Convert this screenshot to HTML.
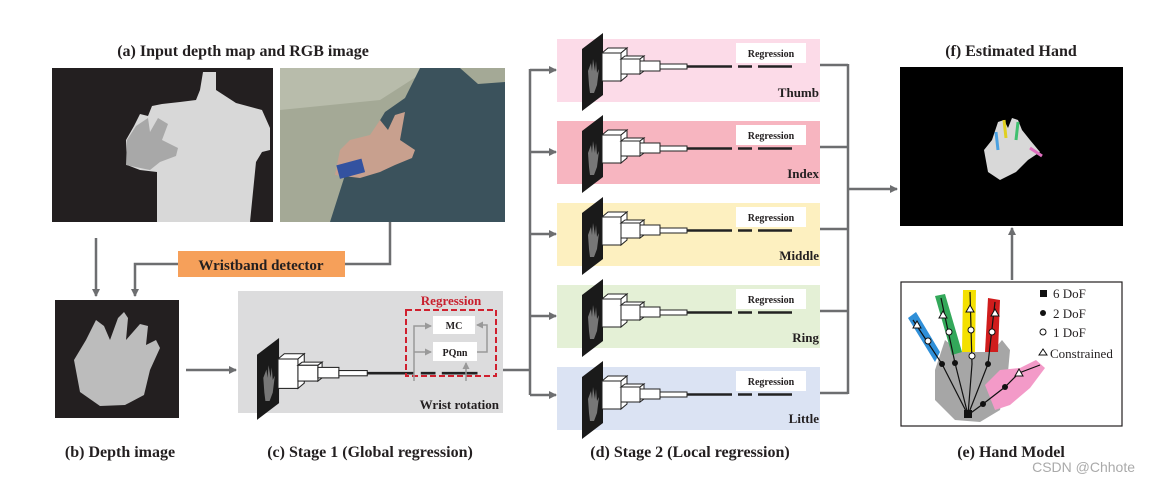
<!DOCTYPE html>
<html><head><meta charset="utf-8"><style>
html,body{margin:0;padding:0;background:#fff}
svg{display:block}
text{font-family:"Liberation Serif",serif;font-weight:bold;fill:#231f20}
</style></head><body>
<svg width="1151" height="482" viewBox="0 0 1151 482" xmlns="http://www.w3.org/2000/svg">
<defs>
<marker id="ah" markerWidth="8" markerHeight="8" refX="7" refY="4" orient="auto" markerUnits="userSpaceOnUse"><path d="M0,0 L8,4 L0,8 z" fill="#6d6e70"/></marker>
<marker id="ah2" markerWidth="7" markerHeight="7" refX="6" refY="3.5" orient="auto" markerUnits="userSpaceOnUse"><path d="M0,0 L7,3.5 L0,7 z" fill="#999"/></marker>
<g id="net">
<polygon points="0,16 21,0 21,62 0,78" fill="#1a1a1a"/>
<path d="M7,52 L6,38 L9,30 L10,38 L11,26 L13,38 L14,28 L15,40 L17,36 L15,52 L12,60 L8,60 Z" fill="#777"/>
<polygon points="20,20 26,15 45,15 39,20" fill="#fff" stroke="#222" stroke-width="1"/>
<polygon points="39,20 45,15 45,43 39,48" fill="#fff" stroke="#222" stroke-width="1"/>
<rect x="20" y="20" width="19" height="28" fill="#fff" stroke="#222" stroke-width="1"/>
<polygon points="39,26 43,23 62,23 58,26" fill="#fff" stroke="#222" stroke-width="1"/>
<polygon points="58,26 62,23 62,38 58,41" fill="#fff" stroke="#222" stroke-width="1"/>
<rect x="39" y="26" width="19" height="15" fill="#fff" stroke="#222" stroke-width="1"/>
<rect x="58" y="28" width="20" height="10" fill="#fff" stroke="#222" stroke-width="1"/>
<rect x="78" y="31" width="27" height="5" fill="#fff" stroke="#222" stroke-width="1"/>
<line x1="105" y1="33.5" x2="150" y2="33.5" stroke="#222" stroke-width="2.5"/>
<line x1="156" y1="33.5" x2="170" y2="33.5" stroke="#222" stroke-width="2.5"/>
<line x1="176" y1="33.5" x2="210" y2="33.5" stroke="#222" stroke-width="2.5"/>
</g>
</defs>

<!-- (a) -->
<text x="243" y="56" font-size="16" text-anchor="middle">(a) Input depth map and RGB image</text>
<rect x="52" y="68" width="221" height="154" fill="#231f20"/>
<polygon points="203,72 216,72 216,90 236,103 262,110 270,128 270,150 262,152 256,162 250,222 157,222 157,172 140,170 127,165 126,140 134,126 140,114 148,116 152,106 162,104 180,102 196,100 200,90" fill="#d8d8d8"/>
<path d="M126,165 L127,140 L136,126 L148,118 L150,132 L158,118 L168,124 L162,140 L178,148 L176,156 L160,162 L150,170 Z" fill="#a8a8a8"/>
<rect x="280" y="68" width="225" height="154" fill="#a4a996"/>
<polygon points="280,68 430,68 380,100 280,110" fill="#b8bcab"/>
<polygon points="420,68 460,68 478,84 505,82 505,222 330,222 345,175 368,140 385,112 405,98" fill="#3b525c"/>
<polygon points="335,175 340,150 350,140 370,135 380,120 388,130 395,115 405,112 400,140 415,150 412,158 395,165 380,172 360,178" fill="#c8a08e"/>
<rect x="338" y="162" width="26" height="14" fill="#3352a0" transform="rotate(-15 350 170)"/>

<!-- (b) -->
<rect x="55" y="300" width="124" height="118" fill="#231f20"/>
<path d="M80,392 L74,360 L86,340 L96,320 L104,326 L110,340 L118,318 L124,312 L128,318 L126,340 L140,324 L148,326 L146,345 L156,340 L160,348 L150,370 L144,395 L125,405 L100,406 Z" fill="#bcbcbc"/>
<text x="120" y="457" font-size="16" text-anchor="middle">(b) Depth image</text>

<!-- arrows left -->
<line x1="96" y1="238" x2="96" y2="296" stroke="#6d6e70" stroke-width="2.5" marker-end="url(#ah)"/>
<polyline points="390,222 390,264 345,264" fill="none" stroke="#6d6e70" stroke-width="2.5"/>
<polyline points="178,264 135,264 135,296" fill="none" stroke="#6d6e70" stroke-width="2.5" marker-end="url(#ah)"/>
<rect x="178" y="251" width="167" height="26" fill="#f6a05a"/>
<text x="261" y="270" font-size="15" text-anchor="middle">Wristband detector</text>
<line x1="186" y1="370" x2="236" y2="370" stroke="#6d6e70" stroke-width="2.5" marker-end="url(#ah)"/>

<!-- (c) -->
<rect x="238" y="291" width="265" height="122" fill="#dcdcdd"/>
<use href="#net" transform="translate(257,338) scale(1.05)"/>
<rect x="406" y="310" width="90" height="66" fill="none" stroke="#d0202e" stroke-width="2" stroke-dasharray="6,3"/>
<text x="451" y="305" font-size="13" text-anchor="middle" style="fill:#c8202e">Regression</text>
<rect x="433" y="316" width="42" height="18" fill="#fff"/>
<text x="454" y="329" font-size="10" text-anchor="middle">MC</text>
<rect x="433" y="342" width="44" height="19" fill="#fff"/>
<text x="455" y="356" font-size="10" text-anchor="middle">PQnn</text>
<polyline points="414,381 414,326 431,326" fill="none" stroke="#999" stroke-width="1.5" marker-end="url(#ah2)"/>
<line x1="414" y1="352" x2="431" y2="352" stroke="#999" stroke-width="1.5" marker-end="url(#ah2)"/>
<polyline points="477,352 487,352 487,325 477,325" fill="none" stroke="#999" stroke-width="1.5" marker-end="url(#ah2)"/>
<line x1="466" y1="381" x2="466" y2="363" stroke="#999" stroke-width="1.5" marker-end="url(#ah2)"/>
<text x="499" y="409" font-size="13" text-anchor="end">Wrist rotation</text>
<text x="370" y="457" font-size="16" text-anchor="middle">(c) Stage 1 (Global regression)</text>

<!-- connectors to stage 2 -->
<polyline points="503,370 530,370" fill="none" stroke="#6d6e70" stroke-width="2.5"/>
<line x1="530" y1="69" x2="530" y2="395" stroke="#6d6e70" stroke-width="2.5"/>
<line x1="530" y1="70" x2="556" y2="70" stroke="#6d6e70" stroke-width="2.5" marker-end="url(#ah)"/>
<line x1="530" y1="152" x2="556" y2="152" stroke="#6d6e70" stroke-width="2.5" marker-end="url(#ah)"/>
<line x1="530" y1="234" x2="556" y2="234" stroke="#6d6e70" stroke-width="2.5" marker-end="url(#ah)"/>
<line x1="530" y1="316" x2="556" y2="316" stroke="#6d6e70" stroke-width="2.5" marker-end="url(#ah)"/>
<line x1="530" y1="395" x2="556" y2="395" stroke="#6d6e70" stroke-width="2.5" marker-end="url(#ah)"/>

<!-- stage 2 boxes -->
<rect x="557" y="39" width="263" height="63" fill="#fcdbe8"/>
<rect x="557" y="121" width="263" height="63" fill="#f7b5c0"/>
<rect x="557" y="203" width="263" height="63" fill="#fdf0c0"/>
<rect x="557" y="285" width="263" height="63" fill="#e4f0d6"/>
<rect x="557" y="367" width="263" height="63" fill="#dbe3f3"/>
<use href="#net" transform="translate(582,33)"/>
<use href="#net" transform="translate(582,115)"/>
<use href="#net" transform="translate(582,197)"/>
<use href="#net" transform="translate(582,279)"/>
<use href="#net" transform="translate(582,361)"/>
<rect x="736" y="43" width="70" height="20" fill="#fff"/><text x="771" y="57" text-anchor="middle" font-size="10">Regression</text>
<rect x="736" y="125" width="70" height="20" fill="#fff"/><text x="771" y="139" text-anchor="middle" font-size="10">Regression</text>
<rect x="736" y="207" width="70" height="20" fill="#fff"/><text x="771" y="221" text-anchor="middle" font-size="10">Regression</text>
<rect x="736" y="289" width="70" height="20" fill="#fff"/><text x="771" y="303" text-anchor="middle" font-size="10">Regression</text>
<rect x="736" y="371" width="70" height="20" fill="#fff"/><text x="771" y="385" text-anchor="middle" font-size="10">Regression</text>
<text x="819" y="97" text-anchor="end" font-size="13">Thumb</text>
<text x="819" y="178" text-anchor="end" font-size="13">Index</text>
<text x="819" y="260" text-anchor="end" font-size="13">Middle</text>
<text x="819" y="342" text-anchor="end" font-size="13">Ring</text>
<text x="819" y="423" text-anchor="end" font-size="13">Little</text>
<text x="690" y="457" font-size="16" text-anchor="middle">(d) Stage 2 (Local regression)</text>

<!-- right connectors -->
<g stroke="#6d6e70" stroke-width="2.5">
<line x1="820" y1="65" x2="848" y2="65"/>
<line x1="820" y1="147" x2="848" y2="147"/>
<line x1="820" y1="229" x2="848" y2="229"/>
<line x1="820" y1="311" x2="848" y2="311"/>
<line x1="820" y1="393" x2="848" y2="393"/>
<line x1="848" y1="64" x2="848" y2="394"/>
</g>
<line x1="848" y1="189" x2="897" y2="189" stroke="#6d6e70" stroke-width="2.5" marker-end="url(#ah)"/>

<!-- (f) -->
<text x="1011" y="56" font-size="16" text-anchor="middle">(f) Estimated Hand</text>
<rect x="900" y="67" width="223" height="159" fill="#000"/>
<path d="M988,172 L984,150 L992,140 L998,122 L1004,120 L1008,128 L1012,118 L1018,120 L1022,130 L1030,140 L1040,152 L1028,160 L1016,172 L1000,180 Z" fill="#d8d8d8"/>
<line x1="1004" y1="120" x2="1006" y2="138" stroke="#e0d020" stroke-width="3"/>
<line x1="1018" y1="122" x2="1016" y2="140" stroke="#40c070" stroke-width="3"/>
<line x1="1030" y1="148" x2="1042" y2="156" stroke="#e070c0" stroke-width="3"/>
<line x1="996" y1="132" x2="998" y2="150" stroke="#4aa0e0" stroke-width="3"/>
<line x1="1012" y1="280" x2="1012" y2="228" stroke="#6d6e70" stroke-width="2.5" marker-end="url(#ah)"/>

<!-- (e) -->
<rect x="901" y="282" width="221" height="144" fill="#fff" stroke="#231f20" stroke-width="1.2"/>
<polygon points="935,370 945,340 960,352 992,352 1002,340 1010,350 1008,372 1000,410 980,422 955,420 935,400" fill="#a6a6a6"/>
<polygon points="908,318 916,312 940,352 935,362" fill="#2f8fd8"/>
<polygon points="935,296 945,294 962,352 952,355" fill="#33a85a"/>
<polygon points="963,290 976,290 975,352 962,352" fill="#f4e000"/>
<polygon points="988,298 1000,300 998,352 985,352" fill="#d01c1c"/>
<polygon points="985,385 1000,370 1020,368 1036,360 1045,368 1030,388 1010,405 995,410" fill="#f39ac8"/>
<g stroke="#111" stroke-width="1.2" fill="none">
<polyline points="913,320 942,364 968,415"/>
<polyline points="941,298 955,363 968,415"/>
<polyline points="970,292 972,364 968,415"/>
<polyline points="995,302 988,364 968,415"/>
<polyline points="1040,365 1019,373 1005,387 983,404 968,415"/>
</g>
<rect x="964" y="410" width="8" height="8" fill="#111"/>
<g fill="#111"><circle cx="942" cy="364" r="3"/><circle cx="955" cy="363" r="3"/><circle cx="988" cy="364" r="3"/><circle cx="983" cy="404" r="3"/><circle cx="1005" cy="387" r="3"/></g>
<g fill="#fff" stroke="#111" stroke-width="1"><circle cx="928" cy="341" r="3"/><circle cx="949" cy="332" r="3"/><circle cx="971" cy="330" r="3"/><circle cx="972" cy="356" r="3"/><circle cx="992" cy="332" r="3"/></g>
<g fill="#fff" stroke="#111" stroke-width="1"><polygon points="917,321 921,328 913,328"/><polygon points="943,311 947,318 939,318"/><polygon points="970,305 974,312 966,312"/><polygon points="995,309 999,316 991,316"/><polygon points="1019,369 1023,376 1015,376"/></g>
<rect x="1040" y="290" width="7" height="7" fill="#111"/>
<circle cx="1043" cy="313" r="3" fill="#111"/>
<circle cx="1043" cy="332" r="3" fill="#fff" stroke="#111"/>
<polygon points="1043,349 1047,355 1039,355" fill="#fff" stroke="#111"/>
<text x="1053" y="298" font-size="13" style="font-weight:normal">6 DoF</text>
<text x="1053" y="318" font-size="13" style="font-weight:normal">2 DoF</text>
<text x="1053" y="337" font-size="13" style="font-weight:normal">1 DoF</text>
<text x="1050" y="358" font-size="13" style="font-weight:normal">Constrained</text>
<text x="1011" y="457" font-size="16" text-anchor="middle">(e) Hand Model</text>
<text x="1135" y="472" font-size="14" text-anchor="end" style="font-family:'Liberation Sans',sans-serif;font-weight:normal;fill:#aaa">CSDN @Chhote</text>
</svg>
</body></html>
